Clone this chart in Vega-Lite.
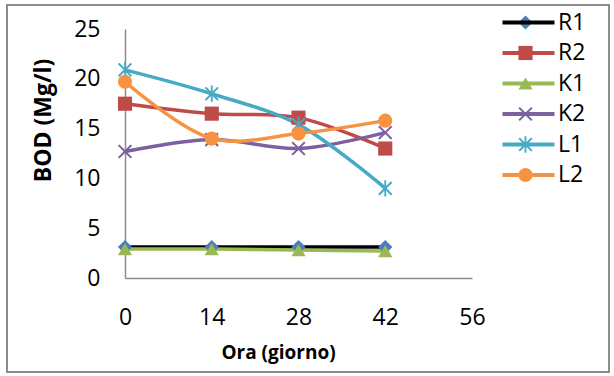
{
  "$schema": "https://vega.github.io/schema/vega-lite/v6.json",
  "width": 602,
  "height": 367,
  "autosize": "none",
  "padding": {"left": 7, "top": 5, "right": 5, "bottom": 4},
  "config": {
    "view": {"stroke": "#8c8c8c", "strokeWidth": 2},
    "font": "Open Sans",
    "axis": {
      "grid": false,
      "ticks": false,
      "domainColor": "#8c8c8c",
      "domainWidth": 1.5,
      "labelFont": "Open Sans",
      "labelFontSize": 23,
      "labelColor": "#000000",
      "labelFlush": false,
      "labelOverlap": false,
      "titleFont": "Open Sans",
      "titleFontWeight": "bold",
      "titleColor": "#000000"
    },
    "legend": {
      "orient": "none",
      "title": null,
      "padding": 0,
      "labelFont": "Open Sans",
      "labelFontSize": 23,
      "labelColor": "#000000",
      "labelBaseline": "middle",
      "labelLimit": 0
    }
  },
  "data": {
    "values": [
      {"serie": "R1", "giorno": 0, "bod": 3.1},
      {"serie": "R1", "giorno": 14, "bod": 3.1},
      {"serie": "R1", "giorno": 28, "bod": 3.1},
      {"serie": "R1", "giorno": 42, "bod": 3.1},
      {"serie": "R2", "giorno": 0, "bod": 17.5},
      {"serie": "R2", "giorno": 14, "bod": 16.5},
      {"serie": "R2", "giorno": 28, "bod": 16.1},
      {"serie": "R2", "giorno": 42, "bod": 13.0},
      {"serie": "K1", "giorno": 0, "bod": 2.9},
      {"serie": "K1", "giorno": 14, "bod": 2.9},
      {"serie": "K1", "giorno": 28, "bod": 2.8},
      {"serie": "K1", "giorno": 42, "bod": 2.7},
      {"serie": "K2", "giorno": 0, "bod": 12.7},
      {"serie": "K2", "giorno": 14, "bod": 13.9},
      {"serie": "K2", "giorno": 28, "bod": 13.0},
      {"serie": "K2", "giorno": 42, "bod": 14.6},
      {"serie": "L1", "giorno": 0, "bod": 20.9},
      {"serie": "L1", "giorno": 14, "bod": 18.5},
      {"serie": "L1", "giorno": 28, "bod": 15.4},
      {"serie": "L1", "giorno": 42, "bod": 9.0},
      {"serie": "L2", "giorno": 0, "bod": 19.7},
      {"serie": "L2", "giorno": 14, "bod": 14.0},
      {"serie": "L2", "giorno": 28, "bod": 14.5},
      {"serie": "L2", "giorno": 42, "bod": 15.8}
    ]
  },
  "encoding": {
    "x": {
      "field": "giorno",
      "type": "quantitative",
      "scale": {"domain": [0, 56], "range": [118, 465], "nice": false, "zero": false},
      "axis": {
        "values": [0, 14, 28, 42, 56],
        "offset": -94,
        "labelPadding": 28,
        "title": "Ora (giorno)",
        "titleFontSize": 19,
        "titleX": 271,
        "titleY": 80,
        "titleAnchor": "middle",
        "titleAlign": "center",
        "titleBaseline": "alphabetic"
      }
    },
    "y": {
      "field": "bod",
      "type": "quantitative",
      "scale": {"domain": [0, 25], "range": [273, 24], "nice": false},
      "axis": {
        "values": [0, 5, 10, 15, 20, 25],
        "offset": -118,
        "labelPadding": 25,
        "title": "BOD (Mg/l)",
        "titleFontSize": 23,
        "titleAngle": -90,
        "titleX": -75,
        "titleY": 115,
        "titleAlign": "center",
        "titleBaseline": "alphabetic"
      }
    }
  },
  "layer": [
    {
      "mark": {"type": "line", "interpolate": "catmull-rom", "strokeWidth": 3.5},
      "encoding": {
        "stroke": {
          "field": "serie",
          "type": "nominal",
          "scale": {
            "domain": ["R1", "R2", "K1", "K2", "L1", "L2"],
            "range": ["#000000", "#BE4B48", "#98B954", "#7D60A0", "#46AAC5", "#F69240"]
          },
          "legend": {
            "legendX": 510,
            "legendY": 6,
            "symbolType": "M-4,0H4",
            "symbolSize": 169,
            "symbolStrokeWidth": 4,
            "labelOffset": 18,
            "rowPadding": 6.5
          }
        }
      }
    },
    {
      "mark": {"type": "point", "filled": true, "opacity": 1, "size": 200},
      "encoding": {
        "color": {
          "field": "serie",
          "type": "nominal",
          "scale": {
            "domain": ["R1", "R2", "K1", "K2", "L1", "L2"],
            "range": ["#4A7EBB", "#BE4B48", "#98B954", "#7D60A0", "#46AAC5", "#F69240"]
          },
          "legend": {
            "legendX": 507,
            "legendY": 6,
            "symbolSize": 200,
            "symbolOpacity": 1,
            "labelExpr": "''",
            "rowPadding": 6.5
          }
        },
        "shape": {
          "field": "serie",
          "type": "nominal",
          "scale": {
            "domain": ["R1", "R2", "K1", "K2", "L1", "L2"],
            "range": [
              "diamond",
              "square",
              "triangle-up",
              "M-1,-0.8L-0.8,-1L0,-0.2L0.8,-1L1,-0.8L0.2,0L1,0.8L0.8,1L0,0.2L-0.8,1L-1,0.8L-0.2,0Z",
              "M-1,-0.8L-0.8,-1L0,-0.2L0.8,-1L1,-0.8L0.2,0L1,0.8L0.8,1L0,0.2L-0.8,1L-1,0.8L-0.2,0ZM-0.13,-1.15L0.13,-1.15L0.13,1.15L-0.13,1.15Z",
              "circle"
            ]
          },
          "legend": {
            "legendX": 507,
            "legendY": 6,
            "symbolSize": 200,
            "symbolOpacity": 1,
            "labelExpr": "''",
            "rowPadding": 6.5
          }
        }
      }
    }
  ],
  "resolve": {"scale": {"stroke": "independent"}}
}
